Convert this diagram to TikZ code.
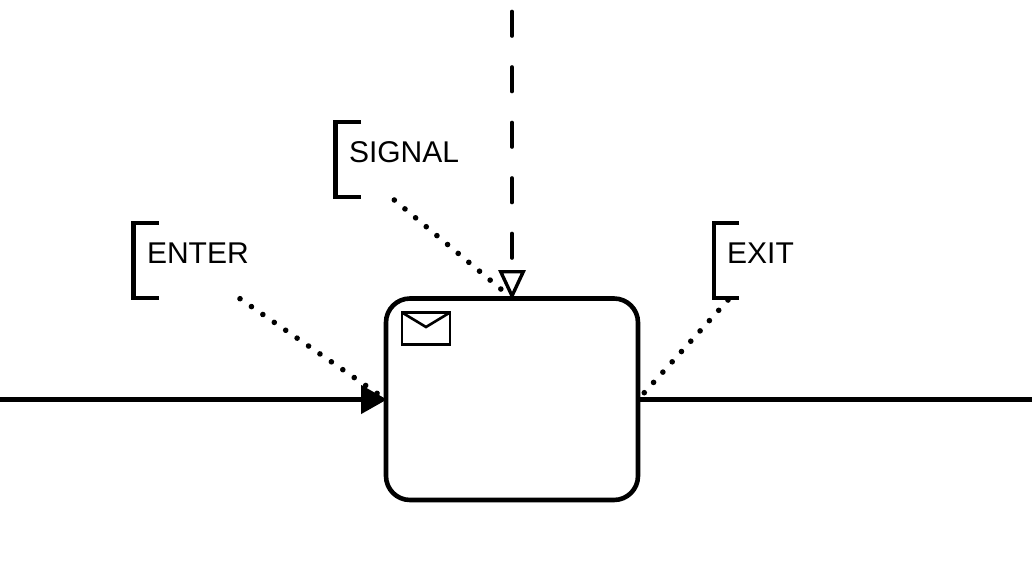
\documentclass[tikz,border=0pt]{standalone}
\usepackage{fontspec}
\setmainfont{Liberation Sans}
\usetikzlibrary{arrows.meta}
\tikzset{
  task/.style={draw=black,line width=4.6pt,rounded corners=24pt,minimum width=252pt,minimum height=201.5pt,inner sep=0pt,outer sep=0pt,anchor=north west},
  flowline/.style={draw=black,line width=4.6pt},
  flowtip/.style={-{Triangle[length=26pt,width=28pt,sep=0pt]}},
  msgline/.style={draw=black,line width=3.6pt,line cap=round,dash pattern=on 24.5pt off 31pt},
  msgtip/.style={-{Triangle[open,fill=white,length=30pt,width=27pt,line width=3.4pt,line cap=butt]}},
  dotline/.style={draw=black,line width=5.6pt,line cap=round,dash pattern=on 0.01pt off 13.87pt},
  bracketline/.style={draw=black,line width=4.6pt},
  label/.style={anchor=base west,inner sep=0pt,outer sep=0pt,font=\fontsize{30pt}{36pt}\selectfont},
  envelope/.style={draw=black,line width=2.6pt,fill=white,minimum width=48pt,minimum height=32pt,inner sep=0pt,outer sep=0pt,anchor=north west}
}
\begin{document}
\begin{tikzpicture}[x=1pt,y=-1pt]
\useasboundingbox (0,0) rectangle (1032,565);
% free ends
\coordinate (flowin) at (0,399.5);
\coordinate (flowout) at (1032,399.5);
\coordinate (msgstart) at (512,11.5);
\coordinate (msgend) at (512,300);
\coordinate (enterstart) at (240,298.7);
\coordinate (enterend) at (386,399.5);
\coordinate (signalstart) at (394.3,200);
\coordinate (signalend) at (502,290);
\coordinate (exitstart) at (728,300);
\coordinate (exitend) at (644,393);
% dotted associations
\draw[dotline] (enterstart) -- (enterend);
\draw[dotline] (signalstart) -- (signalend);
\draw[dotline] (exitstart) -- (exitend);
% flows
\draw[flowline,flowtip] (flowin) -- (387,399.5);
\draw[flowline] (638,399.5) -- (flowout);
\draw[msgline,msgtip] (msgstart) -- (msgend);
% task
\node[task] (task) at (386,298.5) {};
% envelope
\node[envelope] (env) at (402,312.5) {};
\draw[black,line width=2.6pt,line join=miter] (env.north west) -- (426,327) -- (env.north east);
% annotations
\node[label] (enter) at (147,263.5) {ENTER};
\node[label] (signal) at (349,162.5) {SIGNAL};
\node[label] (exit) at (727.2,263.5) {EXIT};
\draw[bracketline] (158.5,223) -- (133.5,223) -- (133.5,298) -- (158.5,298);
\draw[bracketline] (361,122) -- (335.7,122) -- (335.7,197) -- (361,197);
\draw[bracketline] (739,223) -- (714,223) -- (714,298) -- (739,298);
\end{tikzpicture}
\end{document}
